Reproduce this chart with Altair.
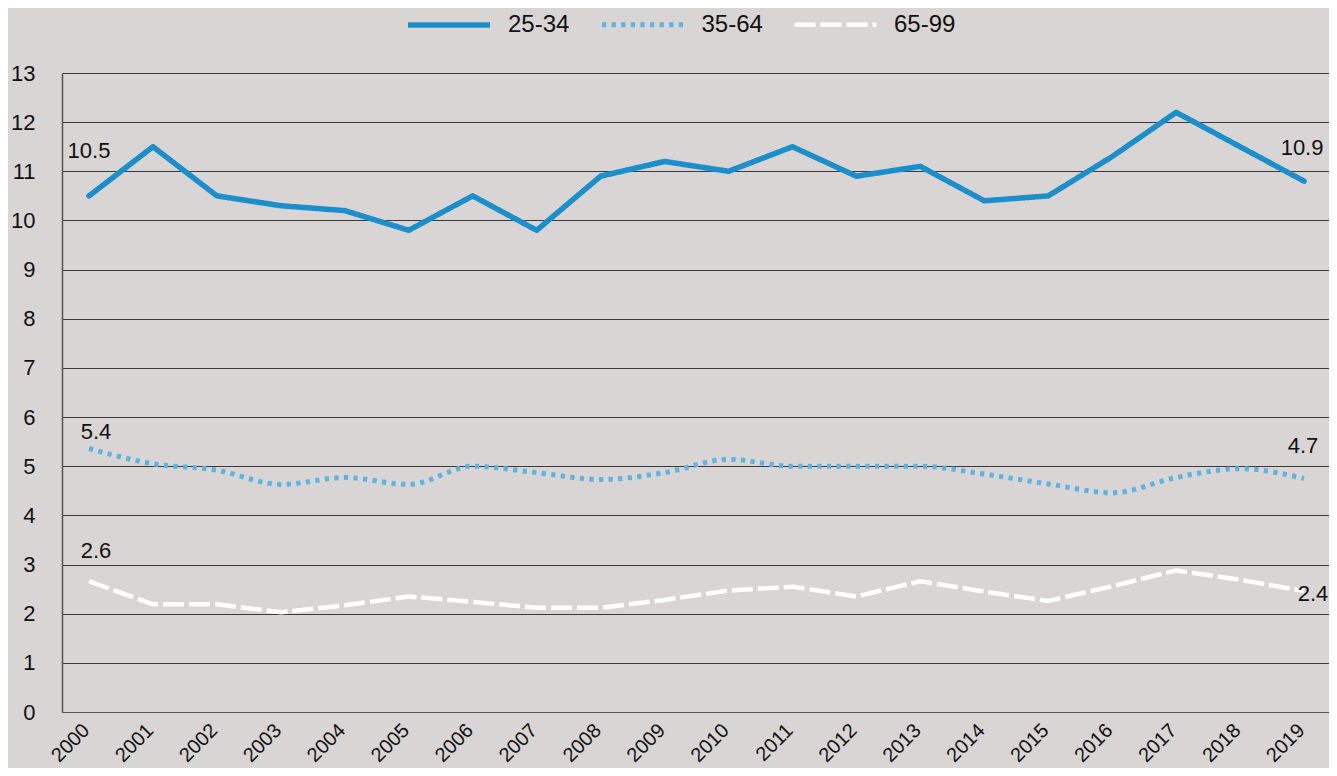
import altair as alt
import pandas as pd

# ---------------- data ----------------
years = list(range(2000, 2020))
series_names = ["25-34", "35-64", "65-99"]
values_25_34 = [10.5, 11.5, 10.5, 10.3, 10.2, 9.8, 10.5, 9.8, 10.9, 11.2,
                11.0, 11.5, 10.9, 11.1, 10.4, 10.5, 11.3, 12.2, 11.5, 10.8]
values_35_64 = [5.36, 5.05, 4.92, 4.63, 4.77, 4.63, 5.0, 4.87, 4.73, 4.87,
                5.14, 5.0, 5.0, 5.0, 4.84, 4.64, 4.46, 4.77, 4.95, 4.75]
values_65_99 = [2.66, 2.19, 2.19, 2.03, 2.17, 2.35, 2.24, 2.12, 2.12, 2.28,
                2.47, 2.55, 2.35, 2.66, 2.45, 2.26, 2.56, 2.88, 2.69, 2.46]

label_series = ["25-34", "25-34", "35-64", "35-64", "65-99", "65-99"]
label_years = [2000, 2019, 2000, 2019, 2000, 2019]
label_texts = ["10.5", "10.9", "5.4", "4.7", "2.6", "2.4"]

y_ticks = list(range(0, 14))

# ---------------- styles ----------------
colors = ["#1b8fcc", "#5cb4e0", "#ffffff"]
dashes = [[1, 0], [4.2, 5.4], [21, 5]]
widths = [5.5, 4.5, 4.2]
interps = ["linear", "monotone", "linear"]
caps = ["round", "butt", "butt"]
label_dx = [0, -2, 7, -1, 7, 9]
label_dy = [-45, -33, -17, -33, -30, 3]
FONT = "Liberation Sans"
BG = "#d8d5d4"
PLOT_W, PLOT_H = 1267, 639
STEP = 63.95          # pixels per year
LEFT_GAP = 27         # pixels from axis to first year

series_values = {"25-34": values_25_34, "35-64": values_35_64, "65-99": values_65_99}
rows = []
for name in series_names:
    for yr, v in zip(years, series_values[name]):
        rows.append({"year": yr, "value": v, "series": name})
df = pd.DataFrame(rows)

x_lo = years[0] - LEFT_GAP / STEP
x_hi = x_lo + PLOT_W / STEP

x_enc = alt.X("year:Q",
              scale=alt.Scale(domain=[x_lo, x_hi], nice=False, zero=False),
              axis=alt.Axis(values=years, format="d", title=None, grid=False,
                            ticks=False, tickSize=0, labelAngle=315,
                            labelAlign="right", labelBaseline="middle",
                            labelPadding=15, labelOffset=-3, labelFontSize=20,
                            domain=True, domainColor="#555555", domainWidth=1.2))
y_enc = alt.Y("value:Q",
              scale=alt.Scale(domain=[0, 13], nice=False, zero=True),
              axis=alt.Axis(values=y_ticks, title=None, grid=True,
                            gridColor="#3a3a3a", gridWidth=1, ticks=False,
                            tickSize=0, labelPadding=27,
                            domain=True, domainColor="#555555", domainWidth=1.5))

legend = alt.Legend(title=None, orient="none", legendX=343, legendY=-92,
                    direction="horizontal", symbolType="stroke",
                    symbolSize=6724, labelFontSize=24, labelFont=FONT,
                    labelColor="#111111", labelOffset=15, columnPadding=21.5,
                    padding=0)
color_enc = alt.Color("series:N", scale=alt.Scale(domain=series_names, range=colors),
                      legend=legend)
dash_enc = alt.StrokeDash("series:N", scale=alt.Scale(domain=series_names, range=dashes),
                          legend=legend)
width_enc = alt.StrokeWidth("series:N", scale=alt.Scale(domain=series_names, range=widths),
                            legend=legend)

layers = []
for name, interp, cap in zip(series_names, interps, caps):
    layers.append(
        alt.Chart(df).transform_filter(alt.datum.series == name)
        .mark_line(interpolate=interp, strokeCap=cap, strokeJoin="round")
        .encode(x=x_enc, y=y_enc, color=color_enc, strokeDash=dash_enc,
                strokeWidth=width_enc)
    )

for s, yr, t, dx, dy in zip(label_series, label_years, label_texts, label_dx, label_dy):
    val = series_values[s][years.index(yr)]
    ldf = pd.DataFrame({"year": [yr], "value": [val], "text": [t]})
    layers.append(
        alt.Chart(ldf).mark_text(dx=dx, dy=dy, fontSize=22, font=FONT,
                                 color="#111111", align="center",
                                 baseline="middle")
        .encode(x=alt.X("year:Q"), y=alt.Y("value:Q"), text="text:N")
    )

chart = alt.layer(*layers).properties(
    width=PLOT_W, height=PLOT_H, background=BG,
    padding={"left": 54, "top": 65, "right": 0, "bottom": 56},
    autosize=alt.AutoSizeParams(type="none"),
).configure_view(stroke=None).configure_axis(
    labelFont=FONT, labelFontSize=22, labelColor="#111111"
)

chart.save("out.html", embed_options={"renderer": "svg", "actions": False})
